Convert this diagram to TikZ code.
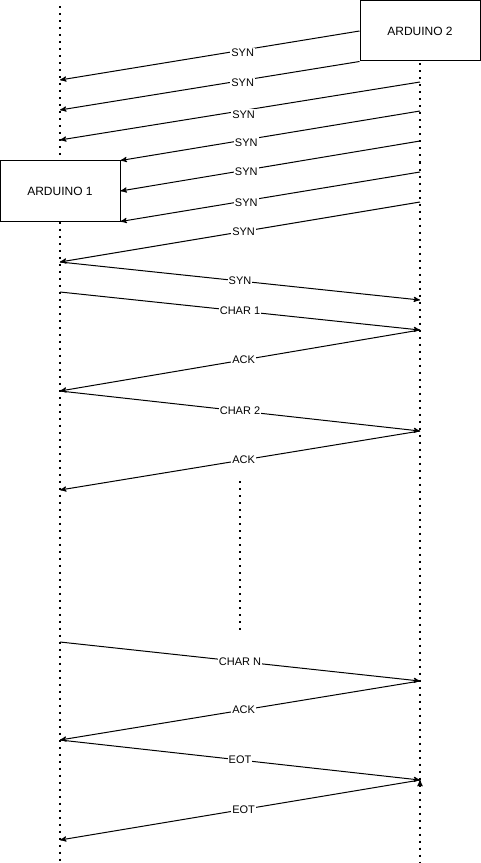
\documentclass[tikz,border=0pt]{standalone}
\usepackage{fontspec}
\setmainfont{Liberation Sans}
\usetikzlibrary{positioning, arrows}
\tikzset{>=stealth',
         device/.style={draw, fill=white, minimum width=90pt, minimum height=45pt,
                        inner sep=0pt, font=\fontsize{9}{11}\selectfont},
         lifeline/.style={line width=1.5pt, dash pattern=on 1.5pt off 3.75pt},
         msg/.style={->, line width=0.75pt},
         lbl/.style={fill=white, inner sep=0.8pt, font=\fontsize{8.25}{10}\selectfont},
         }

\begin{document}
\begin{tikzpicture}[x=0.75pt, y=-0.75pt]
    \useasboundingbox (0,0) rectangle (481,863);

    \node[device, line width=0.75pt] (a1) at (60,191) {ARDUINO 1};
    \node[device, line width=0.75pt] (a2) at (420,31) {ARDUINO 2};

    % lifelines
    \coordinate (top1) at (60,6);
    \coordinate (bot1) at (60,863);
    \coordinate (bot2) at (420,863);
    \coordinate (gap1) at (240,481);
    \coordinate (gap2) at (240,635);
    \draw[lifeline] (top1) -- (a1.north) (a1.south) -- (bot1);
    \draw[lifeline] ([yshift=-1.5pt]a2.south) -- (bot2);
    \draw[lifeline] (gap1) -- (gap2);

    % points on arduino 1
    \coordinate (l1) at (60,80);
    \coordinate (l2) at (60,110);
    \coordinate (l3) at (60,140);
    \coordinate (l4) at (60,262);
    \coordinate (l5) at (60,292);
    \coordinate (l6) at (60,391);
    \coordinate (l7) at (60,490);
    \coordinate (l8) at (60,642);
    \coordinate (l9) at (60,740);
    \coordinate (l10) at (60,840);
    % points on arduino 2
    \coordinate (r1) at (420,82);
    \coordinate (r2) at (420,111);
    \coordinate (r3) at (420,141);
    \coordinate (r4) at (420,172);
    \coordinate (r5) at (420,202);
    \coordinate (r6) at (420,300);
    \coordinate (r7) at (420,330);
    \coordinate (r8) at (420,431);
    \coordinate (r9) at (420,681);
    \coordinate (r10) at (420,780);

    \draw[msg] (a2.west) edge node[lbl, pos=0.39, yshift=-2pt]{SYN} (l1)
               (a2.south west) edge node[lbl, pos=0.39, yshift=-2pt]{SYN} (l2)
               (r1) edge node[lbl, pos=0.49, yshift=-3pt]{SYN} (l3)
               (r2) edge node[lbl, pos=0.58, yshift=-2pt]{SYN} (a1.north east)
               (r3) edge node[lbl, pos=0.58, yshift=-1.5pt]{SYN} (a1.east)
               (r4) edge node[lbl, pos=0.58, yshift=-1.5pt]{SYN} (a1.south east)
               (r5) edge node[lbl, pos=0.49]{SYN} (l4)
               (l4) edge node[lbl, pos=0.5]{SYN} (r6)
               (l5) edge node[lbl, pos=0.5]{CHAR 1} (r7)
               (r7) edge node[lbl, pos=0.49]{ACK} (l6)
               (l6) edge node[lbl, pos=0.5]{CHAR 2} (r8)
               (r8) edge node[lbl, pos=0.49]{ACK} (l7)
               (l8) edge node[lbl, pos=0.5]{CHAR N} (r9)
               (r9) edge node[lbl, pos=0.49]{ACK} (l9)
               (l9) edge node[lbl, pos=0.5]{EOT} (r10)
               (r10) edge node[lbl, pos=0.49]{EOT} (l10);
\end{tikzpicture}
\end{document}
